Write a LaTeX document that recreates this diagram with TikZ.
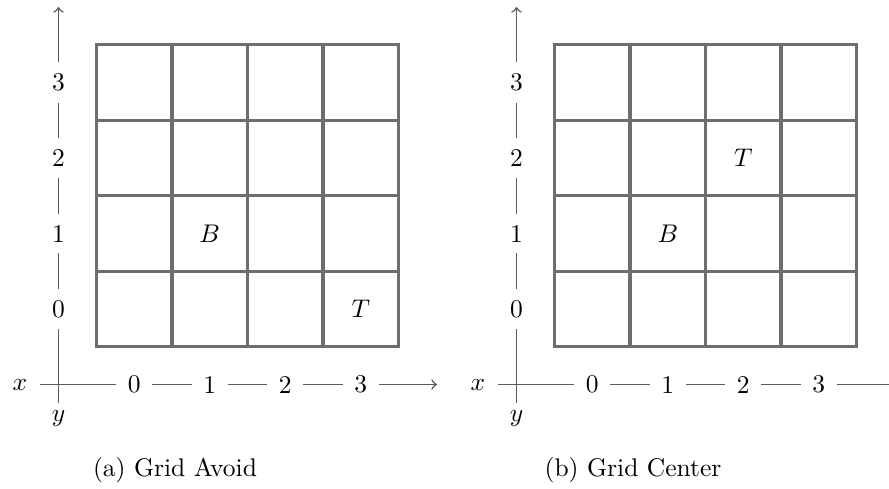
\documentclass[tikz,border=0pt]{standalone}
\definecolor{gridgray}{RGB}{110,110,110}
\definecolor{axisgray}{RGB}{90,90,90}
\tikzset{
  cellline/.style={draw=gridgray, line width=1.2pt},
  axisline/.style={draw=axisgray, line width=0.6pt},
  ticklab/.style={inner sep=4.3pt},
  axlab/.style={inner sep=1pt},
  cellmark/.style={inner sep=1pt},
  subcap/.style={inner sep=0pt},
}
\begin{document}
\begin{tikzpicture}[x=0.392pt,y=-0.392pt]
\useasboundingbox (0,0) rectangle (889,488);
\foreach \off/\tag/\cap in {0/a/{(a) Grid Avoid},458/b/{(b) Grid Center}} {
  \begin{scope}[xshift=\off*0.392pt]
    % grid
    \draw[cellline] (96.5,44.5) rectangle (398.5,346.9);
    \foreach \i in {1,2,3} {
      \draw[cellline] (96.5+75.5*\i,44.5) -- (96.5+75.5*\i,346.9);
      \draw[cellline] (96.5,44.5+75.6*\i) -- (398.5,44.5+75.6*\i);
    }
    % vertical axis
    \coordinate (vb\tag) at (58.5,403);
    \coordinate (vt\tag) at (58.5,7);
    \node[ticklab] (v0\tag) at (58.5,309.1) {0};
    \node[ticklab] (v1\tag) at (58.5,233.5) {1};
    \node[ticklab] (v2\tag) at (58.5,157.9) {2};
    \node[ticklab] (v3\tag) at (58.5,82.3) {3};
    \draw[axisline,->] (vb\tag) -- (v0\tag) -- (v1\tag) -- (v2\tag) -- (v3\tag) -- (vt\tag);
    % horizontal axis
    \coordinate (hs\tag) at (40,384.5);
    \coordinate (he\tag) at (437,384.5);
    \node[ticklab] (h0\tag) at (134.3,384.5) {0};
    \node[ticklab] (h1\tag) at (209.8,384.5) {1};
    \node[ticklab] (h2\tag) at (285.3,384.5) {2};
    \node[ticklab] (h3\tag) at (360.8,384.5) {3};
    \draw[axisline,->] (hs\tag) -- (h0\tag) -- (h1\tag) -- (h2\tag) -- (h3\tag) -- (he\tag);
    \node[axlab] (xl\tag) at (20,384.5) {$x$};
    \node[axlab] (yl\tag) at (58.5,418) {$y$};
    \node[subcap] (cap\tag) at (175,470) {\cap};
  \end{scope}
}
% cell labels
\node[cellmark] (Ba) at (209.8,233.5) {$B$};
\node[cellmark] (Ta) at (360.8,309.1) {$T$};
\node[cellmark] (Bb) at (667.8,233.5) {$B$};
\node[cellmark] (Tb) at (743.3,157.9) {$T$};
\end{tikzpicture}
\end{document}
